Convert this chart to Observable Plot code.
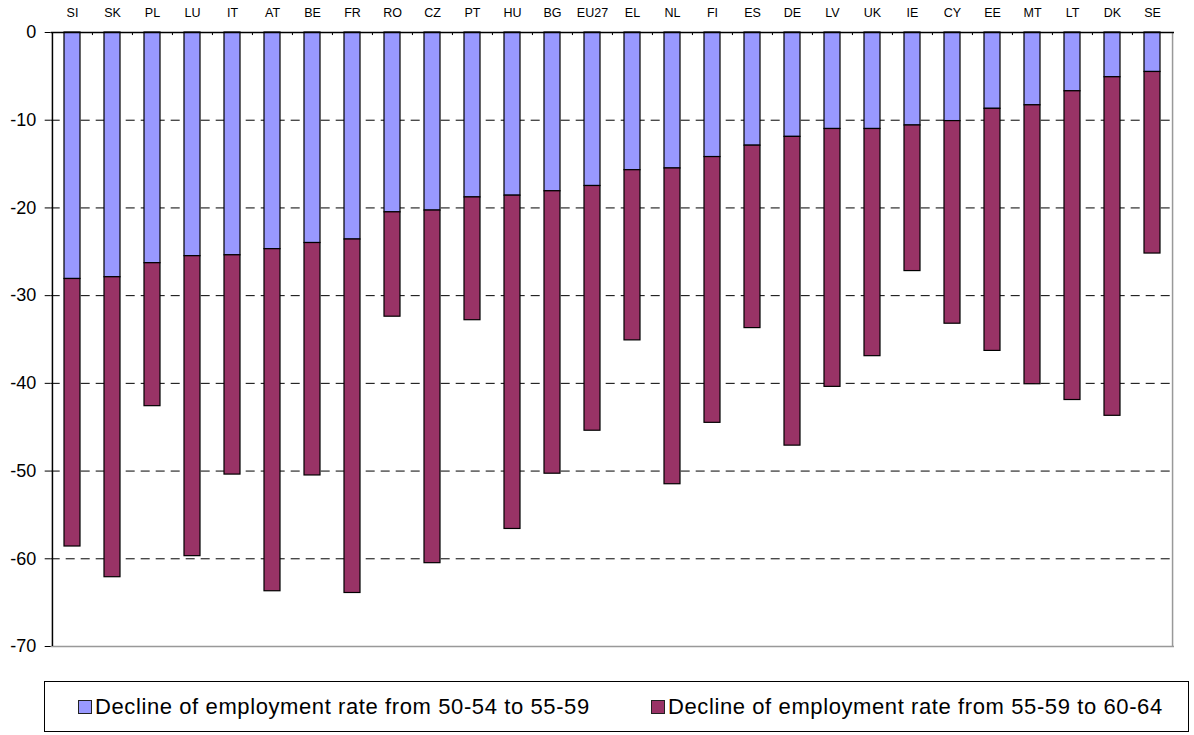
<!DOCTYPE html>
<html>
<head>
<meta charset="utf-8">
<script src="https://cdn.jsdelivr.net/npm/d3@7"></script>
<script src="https://cdn.jsdelivr.net/npm/@observablehq/plot@0.6"></script>
<style>
  body { margin: 0; background: #fff; font-family: "Liberation Sans", Arial, sans-serif; }
  #chart svg { display: block; }
  #legend {
    margin-left: 44px; margin-top: 16px; width: 1145px; height: 51px;
    border: 1px solid #000; box-sizing: border-box; position: relative;
    font-family: "Liberation Sans", Arial, sans-serif; font-size: 22px; letter-spacing: 0.6px; color: #000;
  }
  .item { position: absolute; top: 0; height: 49px; display: flex; align-items: center; white-space: nowrap; }
  .sw { width: 12px; height: 12px; border: 1px solid #222; margin-right: 3px; }
</style>
</head>
<body>
<div id="chart"></div>
<div id="legend"></div>
<script>
const categories = ["SI","SK","PL","LU","IT","AT","BE","FR","RO","CZ","PT","HU","BG","EU27","EL","NL","FI","ES","DE","LV","UK","IE","CY","EE","MT","LT","DK","SE"];
const seriesNames = ["Decline of employment rate from 50-54 to 55-59", "Decline of employment rate from 55-59 to 60-64"];
// decline from 50-54 to 55-59 (percentage points)
const decline1 = [-28.1,-27.9,-26.3,-25.5,-25.4,-24.7,-24.0,-23.6,-20.5,-20.3,-18.8,-18.6,-18.1,-17.5,-15.7,-15.5,-14.2,-12.9,-11.9,-11.0,-11.0,-10.6,-10.1,-8.7,-8.3,-6.7,-5.1,-4.5];
// decline from 55-59 to 60-64 (percentage points)
const decline2 = [-30.5,-34.2,-16.3,-34.2,-25.0,-39.0,-26.5,-40.3,-11.9,-40.2,-14.0,-38.0,-32.2,-27.9,-19.4,-36.0,-30.3,-20.8,-35.2,-29.4,-25.9,-16.6,-23.1,-27.6,-31.8,-35.2,-38.6,-20.7];
const yTicks = [0,-10,-20,-30,-40,-50,-60,-70];
const colors = ["#9999FF", "#993366"];

const rows = [];
categories.forEach((c, i) => {
  rows.push({country: c, series: seriesNames[0], value: decline1[i]});
  rows.push({country: c, series: seriesNames[1], value: decline2[i]});
});

const W = 1194, H = 665, mL = 50.7, mR = 20, mT = 32, mB = 19;
const step = (W - mL - mR) / categories.length;

const chart = Plot.plot({
  width: W, height: H,
  marginLeft: mL, marginRight: mR, marginTop: mT, marginBottom: mB,
  style: {fontFamily: "'Liberation Sans', Arial, sans-serif", color: "#000", background: "#fff"},
  x: {domain: categories, paddingInner: 0.6, paddingOuter: 0.3, axis: null},
  y: {domain: [-70, 0], axis: null},
  color: {domain: seriesNames, range: colors},
  marks: [
    Plot.ruleY(yTicks.filter(d => d !== 0 && d !== -70), {stroke: "#000", strokeDasharray: "9,6", strokeWidth: 1}),
    Plot.ruleY([-70], {stroke: "#999", strokeWidth: 1.5}),
    Plot.ruleX([categories[categories.length - 1]], {y1: -70, y2: 0, dx: step / 2, stroke: "#999", strokeWidth: 1.5}),
    Plot.barY(rows, {x: "country", y: "value", fill: "series", stroke: "#000", strokeWidth: 1.2}),
    Plot.ruleY([0], {stroke: "#000", strokeWidth: 1.5}),
    Plot.ruleX([categories[0]], {y1: -70, y2: 0, dx: -step / 2, stroke: "#000", strokeWidth: 1.5}),
    Plot.ruleX(categories.slice(1), {y1: 0, y2: -0.35, dx: -step / 2, stroke: "#000", strokeWidth: 1}),
    Plot.axisY({ticks: yTicks, tickSize: 6, tickPadding: 9, fontSize: 18, tickFormat: d => String(d), label: null}),
    Plot.axisX({anchor: "top", tickSize: 0, tickPadding: 16, fontSize: 12.5, label: null})
  ]
});
document.getElementById("chart").appendChild(chart);

const legend = document.getElementById("legend");
const lefts = [33, 606];
seriesNames.forEach((name, i) => {
  const it = document.createElement("div");
  it.className = "item";
  it.style.left = lefts[i] + "px";
  const sw = document.createElement("span");
  sw.className = "sw";
  sw.style.background = colors[i];
  it.appendChild(sw);
  const t = document.createElement("span");
  t.textContent = name;
  it.appendChild(t);
  legend.appendChild(it);
});
</script>
</body>
</html>
